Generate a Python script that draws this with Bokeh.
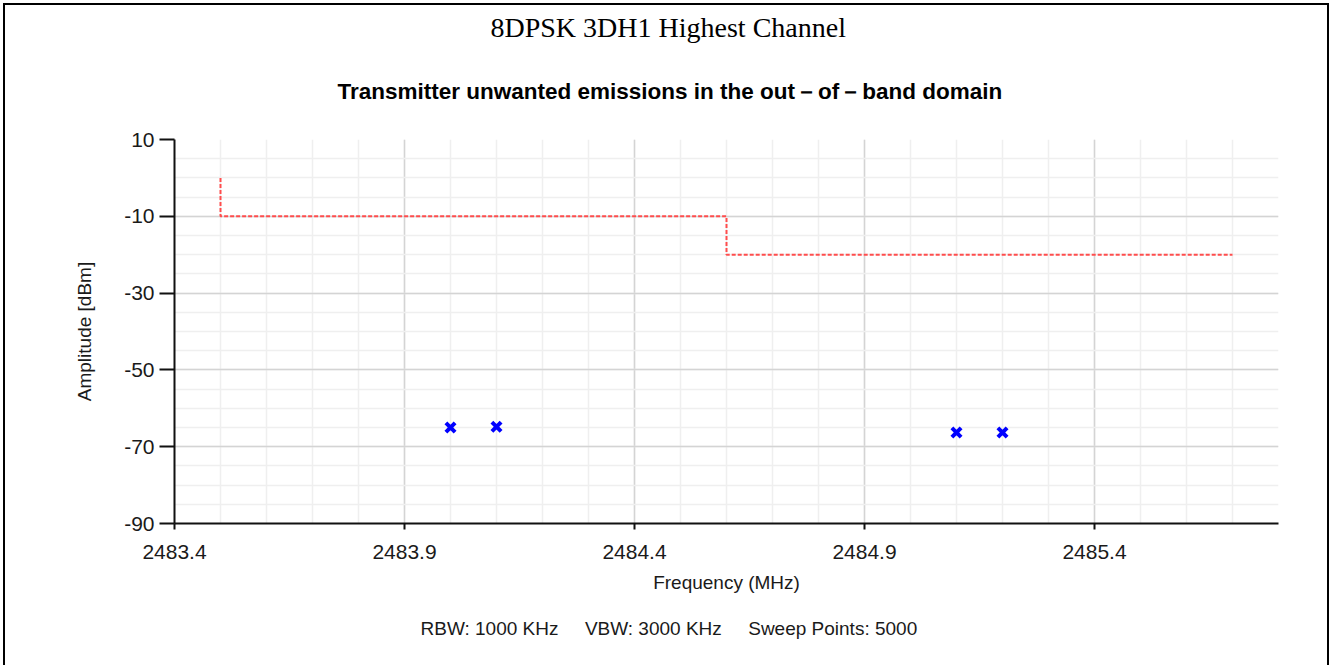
import numpy as np
from bokeh.plotting import figure
from bokeh.models import FixedTicker, Title, Range1d
from bokeh.embed import file_html
from bokeh.resources import INLINE

# ---- data ----
limit_freq = [2483.5, 2483.5, 2484.6, 2484.6, 2485.7]
limit_amp = [0, -10, -10, -20, -20]
peak_freq = [2484.0, 2484.1, 2485.1, 2485.2]
peak_amp = [-65.0, -64.8, -66.3, -66.3]
x_ticks = [2483.4, 2483.9, 2484.4, 2484.9, 2485.4]
x_tick_labels = ["2483.4", "2483.9", "2484.4", "2484.9", "2485.4"]
y_ticks = [-90, -70, -50, -30, -10, 10]
y_tick_labels = ["-90", "-70", "-50", "-30", "-10", "10"]
x_min, x_max = 2483.4, 2485.8
y_min, y_max = -90, 10

main_title = "8DPSK 3DH1 Highest Channel"
sub_title = "Transmitter unwanted emissions in the out\uff0dof\uff0dband domain"
GAP = "\u00a0" * 5
footer = "RBW: 1000 KHz" + GAP + "VBW: 3000 KHz" + GAP + "Sweep Points: 5000"

SANS = "Liberation Sans"
W, H = 1326, 662
BL, BR = 169, 53

p = figure(width=W, height=H, output_backend="svg", toolbar_location=None,
           x_range=Range1d(x_min, x_max), y_range=Range1d(y_min, y_max),
           min_border_left=BL, min_border_right=BR, min_border_top=134,
           min_border_bottom=144, background_fill_color="white",
           border_fill_color="white", outline_line_color=None)
p.styles = {"margin-left": "3px", "margin-top": "3px",
            "border-top": "2px solid black", "border-left": "2px solid black",
            "border-right": "2px solid black"}

# ticks / grids
x_minor = list(np.round(np.arange(x_min, x_max + 1e-9, 0.1), 2))
y_minor = list(np.arange(y_min, y_max + 1, 5))
p.xaxis.ticker = FixedTicker(ticks=x_ticks, minor_ticks=x_minor)
p.yaxis.ticker = FixedTicker(ticks=y_ticks, minor_ticks=y_minor)
p.xaxis.major_label_overrides = {t: l for t, l in zip(x_ticks, x_tick_labels)}
p.yaxis.major_label_overrides = {t: l for t, l in zip(y_ticks, y_tick_labels)}

for g in (p.xgrid, p.ygrid):
    g.grid_line_color = "#d4d4d4"
    g.grid_line_width = 1.5
    g.minor_grid_line_color = "#efefef"
    g.minor_grid_line_width = 1.5

for ax in (p.xaxis, p.yaxis):
    ax.axis_line_color = "#111111"
    ax.axis_line_width = 2
    ax.major_tick_line_color = "#111111"
    ax.major_tick_line_width = 2
    ax.major_tick_in = 0
    ax.minor_tick_line_color = None
    ax.major_label_text_font = SANS
    ax.major_label_text_font_size = "21px"
    ax.major_label_text_color = "#1a1a1a"
    ax.axis_label_text_font = SANS
    ax.axis_label_text_font_size = "19px"
    ax.axis_label_text_font_style = "normal"
    ax.axis_label_text_color = "#1a1a1a"

p.xaxis.major_tick_out = 6
p.xaxis.major_label_standoff = 15
p.xaxis.axis_label = "Frequency (MHz)"
p.xaxis.axis_label_standoff = 10
p.yaxis.major_tick_out = 15
p.yaxis.major_label_standoff = 5
p.yaxis.axis_label = "Amplitude [dBm]"
p.yaxis.axis_label_standoff = 26

# data
p.line(limit_freq, limit_amp, line_color="#ff4d4d", line_width=2, line_dash="4 2")
p.scatter(peak_freq, peak_amp, marker="x", size=13, line_color="#0000ff", line_width=4)

# titles (left-aligned with an offset so they sit centred on the whole panel)
p.add_layout(Title(text=footer, text_font=SANS, text_font_size="19px",
                   text_font_style="normal", text_color="#1a1a1a", align="left",
                   offset=246, standoff=40), "below")
p.add_layout(Title(text=sub_title, text_font=SANS, text_font_size="22.5px",
                   text_font_style="bold", text_color="#000000", align="left",
                   offset=163, vertical_align="top", standoff=68), "above")
p.add_layout(Title(text=main_title, text_font="Liberation Serif", text_font_size="28px",
                   text_font_style="normal", text_color="#000000", align="left",
                   offset=316, standoff=4), "above")

open("out.html", "w").write(file_html(p, INLINE))
